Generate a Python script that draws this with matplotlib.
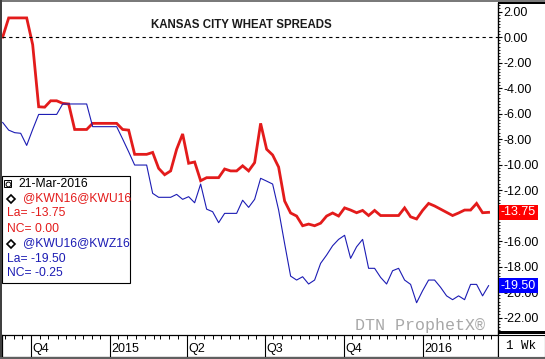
import matplotlib
matplotlib.use('Agg')
import matplotlib.pyplot as plt
from matplotlib.patches import Rectangle
from matplotlib.ticker import MultipleLocator
import pandas as pd

# weekly spread values (cents), last bar 21-Mar-2016
kwn_kwu = [0.0, 1.5, 1.5, 1.5, 1.5, -0.6, -5.47, -5.5, -5.0, -5.0,
           -5.2, -5.25, -7.25, -7.25, -7.25, -6.77, -6.77, -6.77, -6.77, -6.77,
           -7.25, -7.3, -9.2, -9.2, -9.2, -9.05, -10.3, -10.8, -10.5, -8.8,
           -7.6, -9.9, -9.8, -11.27, -11.03, -11.03, -11.03, -10.35, -10.5, -10.5,
           -10.1, -10.5, -9.85, -6.77, -8.8, -9.25, -10.2, -12.86, -13.8, -14.04,
           -14.8, -14.67, -14.8, -14.6, -14.04, -13.8, -14.04, -13.4, -13.57, -13.78,
           -13.6, -14.0, -13.6, -14.0, -14.0, -14.0, -14.0, -13.4, -14.1, -14.27,
           -13.6, -13.05, -13.25, -13.5, -13.75, -14.0, -13.8, -13.57, -13.57, -13.05,
           -13.78, -13.75]
kwu_kwz = [-6.7, -7.3, -7.5, -7.55, -8.5, -7.25, -6.07, -6.07, -6.07, -6.07,
           -5.25, -5.25, -5.25, -5.25, -5.25, -7.03, -7.03, -7.03, -7.03, -7.03,
           -8.0, -9.0, -10.04, -10.04, -10.04, -12.26, -12.57, -12.57, -12.57, -12.34,
           -12.73, -12.52, -13.0, -11.53, -13.5, -13.7, -14.56, -13.83, -13.83, -13.83,
           -12.8, -13.36, -12.73, -11.08, -11.3, -11.53, -13.57, -16.2, -18.75, -19.06,
           -18.8, -19.37, -19.06, -17.75, -17.1, -16.37, -15.87, -15.55, -17.36, -16.45,
           -15.87, -18.14, -18.14, -18.85, -19.37, -18.33, -18.14, -19.06, -19.4, -20.84,
           -19.9, -19.06, -19.06, -19.63, -20.3, -20.6, -20.3, -20.6, -19.4, -19.4,
           -20.3, -19.5]
dates = pd.date_range(end='2016-03-18', periods=len(kwn_kwu), freq='7D')

quarter_ticks = ['2014-10-01', '2015-01-01', '2015-04-01', '2015-07-01', '2015-10-01', '2016-01-01']
quarter_labels = ['Q4', '2015', 'Q2', 'Q3', 'Q4', '2016']

W, H = 545, 359
RED = '#e31b1b'
BLUE = '#1c1cb4'
FONT = 'Liberation Sans'


def box(x0, y0, x1, y1):
    # pixel box (top-left origin) -> figure fraction rect
    return [x0 / W, 1 - y1 / H, (x1 - x0) / W, (y1 - y0) / H]


fig = plt.figure(figsize=(W / 100, H / 100), dpi=100)

ax = fig.add_axes(box(2, 3, 498, 335))
ax.plot(dates, kwn_kwu, color=RED, lw=2.0, solid_joinstyle='miter')
ax.plot(dates, kwu_kwz, color=BLUE, lw=0.8)
ax.axhline(0, color='black', lw=0.8, ls=(0, (3, 3)))
x0 = dates[0] - pd.Timedelta(days=0.8)
x1 = dates[-1] + pd.Timedelta(days=11)
ax.set_xlim(x0, x1)
ax.set_ylim(-23.37, 2.67)

ax.yaxis.tick_right()
ax.yaxis.set_major_locator(MultipleLocator(2))
ax.yaxis.set_minor_locator(MultipleLocator(0.25))
ax.yaxis.set_major_formatter(matplotlib.ticker.FormatStrFormatter('%.2f'))
ax.tick_params(axis='y', which='major', length=3, width=0.8, pad=1,
               labelsize=9, labelfontfamily=FONT)
ax.tick_params(axis='y', which='minor', length=1.5, width=0.6)
ax.tick_params(axis='x', which='both', bottom=False, labelbottom=False)
for s in ['top', 'left', 'bottom']:
    ax.spines[s].set_visible(False)
ax.spines['right'].set_linewidth(1.0)

# last value boxes
for vals, col in [(kwn_kwu, '#ff0000'), (kwu_kwz, '#0000ff')]:
    ax.text(1.006, vals[-1], '%.2f' % vals[-1], transform=ax.get_yaxis_transform(),
            ha='left', va='center', color='white', fontsize=9, family=FONT, zorder=10,
            bbox=dict(boxstyle='square,pad=0.12', fc=col, ec='none'), clip_on=False)

ax.text(0.482, 0.935, 'KANSAS CITY WHEAT SPREADS', transform=ax.transAxes,
        ha='center', va='center', fontsize=8.3, fontweight='bold', family=FONT,
        color='#1a1a1a')
ax.text(0.843, 0.03, 'DTN ProphetX\u00ae', transform=ax.transAxes, ha='center',
        va='center', fontsize=12, family='Liberation Mono', color='#a8a8a8')

# date band
axd = fig.add_axes(box(2, 335, 498, 357), sharex=ax)
axd.set_ylim(0, 1)
axd.set_yticks([])
minor = []
for m in pd.date_range('2014-08-01', '2016-04-01', freq='MS'):
    for d in (1, 11, 21):
        minor.append(m + pd.Timedelta(days=d - 1))
axd.set_xticks(minor, minor=True)
axd.set_xticks([])
axd.tick_params(axis='x', which='minor', direction='in', top=True, bottom=False,
                length=3, width=0.7)
for t, lab in zip(pd.to_datetime(quarter_ticks), quarter_labels):
    axd.axvline(t, color='black', lw=0.8)
    axd.text(t + pd.Timedelta(days=2), 0.1, lab, ha='left', va='bottom', fontsize=9,
             family=FONT)
for s in axd.spines.values():
    s.set_linewidth(0.9)
axd.set_xlim(x0, x1)

# legend panel
fig.patches.append(Rectangle((2 / W, 1 - 283 / H), 128 / W, 107 / H, transform=fig.transFigure,
                             fc='white', ec='black', lw=0.8))
rows = [('21-Mar-2016', 'black', 18), ('@KWN16@KWU16', RED, 23), ('La= %.2f' % kwn_kwu[-1], RED, 7),
        ('NC= 0.00', RED, 7), ('@KWU16@KWZ16', BLUE, 23), ('La= %.2f' % kwu_kwz[-1], BLUE, 7),
        ('NC= -0.25', BLUE, 7)]
for i, (txt, col, xp) in enumerate(rows):
    yp = 183.5 + i * 15
    fig.text(xp / W, 1 - yp / H, txt, color=col, fontsize=8.7, family=FONT,
             ha='left', va='center')
    if xp == 23:
        fig.lines.append(plt.Line2D([11 / W], [1 - yp / H], marker='D', ms=4.5, mfc='white',
                                    mec='black', mew=1.2, transform=fig.transFigure))
fig.patches.append(Rectangle((4 / W, 1 - 187 / H), 7 / W, 7 / H, transform=fig.transFigure,
                             fc='white', ec='black', lw=0.7))
fig.lines.append(plt.Line2D([7.5 / W], [1 - 183.5 / H], marker='o', ms=3.5, mfc='none',
                            mec='black', mew=0.7, transform=fig.transFigure))

# frame details
fig.patches.append(Rectangle((498 / W, 1 - 4 / H), 47 / W, 4 / H, transform=fig.transFigure,
                             fc='black', ec='none'))
fig.patches.append(Rectangle((498 / W, 1 - 334 / H), 47 / W, 3 / H, transform=fig.transFigure,
                             fc='black', ec='none'))
fig.patches.append(Rectangle((498 / W, 1 - 357 / H), 47 / W, 22 / H, transform=fig.transFigure,
                             fc='white', ec='black', lw=0.8))
fig.text(521 / W, 1 - 346 / H, '1 Wk', ha='center', va='center', fontsize=9,
         family='Liberation Mono')
fig.patches.append(Rectangle((0, 1 - 2 / H), 1, 2 / H, transform=fig.transFigure,
                             fc='#7a7a7a', ec='none'))
fig.patches.append(Rectangle((0, 0), 2 / W, 1, transform=fig.transFigure,
                             fc='#404040', ec='none'))
fig.patches.append(Rectangle((0, 0), 1, 2 / H, transform=fig.transFigure,
                             fc='#606060', ec='none'))

fig.savefig('out.png', dpi=100)
